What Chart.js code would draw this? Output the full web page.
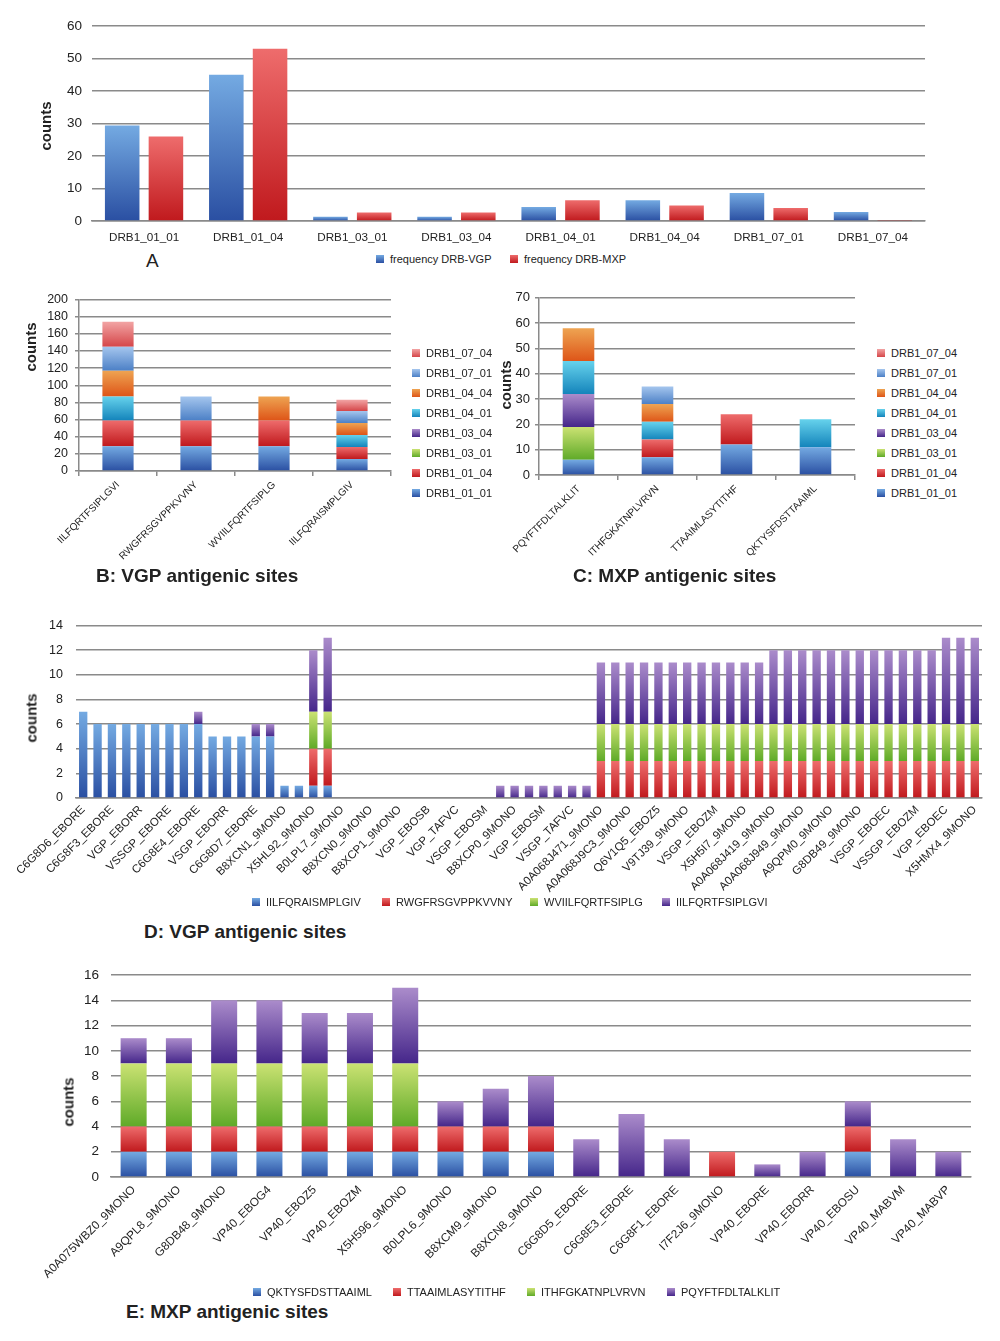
<!DOCTYPE html>
<html>
<head>
<meta charset="utf-8">
<script src="https://cdn.jsdelivr.net/npm/chart.js@4.4.1/dist/chart.umd.min.js"></script>
<style>
    body { margin: 0; background: #fff; font-family: 'Liberation Sans', Arial, Helvetica, sans-serif; color: #222; }
    #page { position: relative; width: 1000px; height: 1341px; overflow: hidden; }
    .box { position: absolute; }
    .lg { position: absolute; font-size: 11px; line-height: 12px; white-space: nowrap; display: flex; align-items: center; }
    .sw { display: inline-block; width: 8px; height: 8px; }
    .ytitle { position: absolute; font-size: 15px; font-weight: bold; white-space: nowrap; transform: translate(-50%, -50%) rotate(-90deg); }
    .ptitle { position: absolute; font-size: 19px; font-weight: bold; line-height: 22px; white-space: nowrap; }
</style>
</head>
<body>
<div id="page">
    <div class="box" style="left:0;top:0;width:1000px;height:250px"><canvas id="chartA"></canvas></div>
    <div class="box" style="left:0;top:285px;width:400px;height:290px"><canvas id="chartB"></canvas></div>
    <div class="box" style="left:490px;top:285px;width:380px;height:290px"><canvas id="chartC"></canvas></div>
    <div class="box" style="left:0;top:605px;width:1000px;height:305px"><canvas id="chartD"></canvas></div>
    <div class="box" style="left:0;top:955px;width:1000px;height:340px"><canvas id="chartE"></canvas></div>

    <div class="ytitle" style="left:45px;top:126px">counts</div>
    <div class="ytitle" style="left:30px;top:347px">counts</div>
    <div class="ytitle" style="left:505px;top:385px">counts</div>
    <div class="ytitle" style="left:31px;top:718px">counts</div>
    <div class="ytitle" style="left:68px;top:1102px">counts</div>

    <div class="ptitle" style="left:146px;top:250px;font-weight:normal">A</div>
    <div class="ptitle" style="left:96px;top:565px">B: VGP antigenic sites</div>
    <div class="ptitle" style="left:573px;top:565px">C: MXP antigenic sites</div>
    <div class="ptitle" style="left:144px;top:921px">D: VGP antigenic sites</div>
    <div class="ptitle" style="left:126px;top:1301px">E: MXP antigenic sites</div>
</div>
<script>
// Panel A: allele frequencies
const alleles = ['DRB1_01_01', 'DRB1_01_04', 'DRB1_03_01', 'DRB1_03_04', 'DRB1_04_01', 'DRB1_04_04', 'DRB1_07_01', 'DRB1_07_04'];
const freqVGP = [29.4, 45, 1.3, 1.3, 4.3, 6.4, 8.6, 2.8];
const freqMXP = [26, 53, 2.6, 2.6, 6.4, 4.8, 4, 0.3];

// Panels B and C: counts per allele (stack order bottom -> top = alleles order)
const vgpSites = ['IILFQRTFSIPLGVI', 'RWGFRSGVPPKVVNY', 'WVIILFQRTFSIPLG', 'IILFQRAISMPLGIV'];
const vgp0101 = [29, 29, 29, 14];
const vgp0104 = [30, 30, 30, 14];
const vgp0301 = [0, 0, 0, 0];
const vgp0304 = [0, 0, 0, 0];
const vgp0401 = [28, 0, 0, 14];
const vgp0404 = [30, 0, 28, 14];
const vgp0701 = [28, 28, 0, 14];
const vgp0704 = [29, 0, 0, 13];

const mxpSites = ['PQYFTFDLTALKLIT', 'ITHFGKATNPLVRVN', 'TTAAIMLASYTITHF', 'QKTYSFDSTTAAIML'];
const mxp0101 = [6, 7, 12, 11];
const mxp0104 = [0, 7, 12, 0];
const mxp0301 = [13, 0, 0, 0];
const mxp0304 = [13, 0, 0, 0];
const mxp0401 = [13, 7, 0, 11];
const mxp0404 = [13, 7, 0, 0];
const mxp0701 = [0, 7, 0, 0];
const mxp0704 = [0, 0, 0, 0];

// Panel D: VGP sequences (only every other label is printed)
const dTickLabels = ['C6G8D6_EBORE', 'C6G8F3_EBORE', 'VGP_EBORR', 'VSSGP_EBORE', 'C6G8E4_EBORE', 'VSGP_EBORR',
    'C6G8D7_EBORE', 'B8XCN1_9MONO', 'X5HL92_9MONO', 'B0LPL7_9MONO', 'B8XCN0_9MONO', 'B8XCP1_9MONO',
    'VGP_EBOSB', 'VGP_TAFVC', 'VSGP_EBOSM', 'B8XCP0_9MONO', 'VGP_EBOSM', 'VSGP_TAFVC',
    'A0A068J471_9MONO', 'A0A068J9C3_9MONO', 'Q6V1Q5_EBOZ5', 'V9TJ39_9MONO', 'VSGP_EBOZM', 'X5H5I7_9MONO',
    'A0A068J419_9MONO', 'A0A068J949_9MONO', 'A9QPM0_9MONO', 'G8DB49_9MONO', 'VSGP_EBOEC', 'VSSGP_EBOZM',
    'VGP_EBOEC', 'X5HMX4_9MONO'];
const dIILFQRAISMPLGIV = [
    7, 6, 6, 6, 6, 6, 6, 6, 6, 5, 5, 5, 5, 5, 1, 1, 1, 1, 0, 0, 0,
    0, 0, 0, 0, 0, 0, 0, 0, 0, 0, 0, 0, 0, 0, 0, 0, 0, 0, 0, 0, 0,
    0, 0, 0, 0, 0, 0, 0, 0, 0, 0, 0, 0, 0, 0, 0, 0, 0, 0, 0, 0, 0];
const dRWGFRSGVPPKVVNY = [
    0, 0, 0, 0, 0, 0, 0, 0, 0, 0, 0, 0, 0, 0, 0, 0, 3, 3, 0, 0, 0,
    0, 0, 0, 0, 0, 0, 0, 0, 0, 0, 0, 0, 0, 0, 0, 3, 3, 3, 3, 3, 3,
    3, 3, 3, 3, 3, 3, 3, 3, 3, 3, 3, 3, 3, 3, 3, 3, 3, 3, 3, 3, 3];
const dWVIILFQRTFSIPLG = [
    0, 0, 0, 0, 0, 0, 0, 0, 0, 0, 0, 0, 0, 0, 0, 0, 3, 3, 0, 0, 0,
    0, 0, 0, 0, 0, 0, 0, 0, 0, 0, 0, 0, 0, 0, 0, 3, 3, 3, 3, 3, 3,
    3, 3, 3, 3, 3, 3, 3, 3, 3, 3, 3, 3, 3, 3, 3, 3, 3, 3, 3, 3, 3];
const dIILFQRTFSIPLGVI = [
    0, 0, 0, 0, 0, 0, 0, 0, 1, 0, 0, 0, 1, 1, 0, 0, 5, 6, 0, 0, 0,
    0, 0, 0, 0, 0, 0, 0, 0, 1, 1, 1, 1, 1, 1, 1, 5, 5, 5, 5, 5, 5,
    5, 5, 5, 5, 5, 5, 6, 6, 6, 6, 6, 6, 6, 6, 6, 6, 6, 6, 7, 7, 7];

// Panel E: MXP sequences
const eLabels = ['A0A075WBZ0_9MONO', 'A9QPL8_9MONO', 'G8DB48_9MONO', 'VP40_EBOG4', 'VP40_EBOZ5', 'VP40_EBOZM',
    'X5H596_9MONO', 'B0LPL6_9MONO', 'B8XCM9_9MONO', 'B8XCN8_9MONO', 'C6G8D5_EBORE', 'C6G8E3_EBORE',
    'C6G8F1_EBORE', 'I7F2J6_9MONO', 'VP40_EBORE', 'VP40_EBORR', 'VP40_EBOSU', 'VP40_MABVM', 'VP40_MABVP'];
const eQKTYSFDSTTAAIML = [2, 2, 2, 2, 2, 2, 2, 2, 2, 2, 0, 0, 0, 0, 0, 0, 2, 0, 0];
const eTTAAIMLASYTITHF = [2, 2, 2, 2, 2, 2, 2, 2, 2, 2, 0, 0, 0, 2, 0, 0, 2, 0, 0];
const eITHFGKATNPLVRVN = [5, 5, 5, 5, 5, 5, 5, 0, 0, 0, 0, 0, 0, 0, 0, 0, 0, 0, 0];
const ePQYFTFDLTALKLIT = [2, 2, 5, 5, 4, 4, 6, 2, 3, 4, 3, 5, 3, 0, 1, 2, 2, 3, 2];

// Colour pairs: [top of bar, bottom of bar]
const BLUE = ['#74aae2', '#2a4fa2'];
const RED = ['#ee6c6c', '#c0191d'];
const GREEN = ['#cbe273', '#5faa28'];
const PURPLE = ['#ab8ccb', '#45268a'];
const CYAN = ['#66d2ec', '#1484bb'];
const ORANGE = ['#eea452', '#de5518'];
const LIGHTBLUE = ['#a5c6ee', '#4c80c6'];
const PINK = ['#f2a4a4', '#d54649'];
const alleleColors = [BLUE, RED, GREEN, PURPLE, CYAN, ORANGE, LIGHTBLUE, PINK];

Chart.defaults.font.family = "'Liberation Sans', Arial, Helvetica, sans-serif";
Chart.defaults.color = '#222';

const GRID = '#8a8a8a';

// Vertical gradient across each bar segment
function gradientFill(colors, stacked) {
    return function (ctx) {
        if (ctx.type !== 'data') return colors[1];
        const chart = ctx.chart;
        const yScale = chart.scales.y;
        if (!chart.chartArea || !yScale) return colors[1];
        const ds = chart.data.datasets;
        let base = 0;
        if (stacked) {
            for (let k = 0; k < ctx.datasetIndex; k++) base += ds[k].data[ctx.dataIndex] || 0;
        }
        const value = ds[ctx.datasetIndex].data[ctx.dataIndex] || 0;
        const yBottom = yScale.getPixelForValue(base);
        const yTop = yScale.getPixelForValue(base + value);
        if (yBottom - yTop < 1) return colors[1];
        const g = chart.ctx.createLinearGradient(0, yTop, 0, yBottom);
        g.addColorStop(0, colors[0]);
        g.addColorStop(1, colors[1]);
        return g;
    };
}

function barChart(id, labels, series, o) {
    return new Chart(document.getElementById(id), {
        type: 'bar',
        data: {
            labels: labels,
            datasets: series.map(s => ({
                label: s.name,
                data: s.data,
                backgroundColor: gradientFill(s.colors, o.stacked),
                borderWidth: 0,
                categoryPercentage: o.catPct,
                barPercentage: o.barPct
            }))
        },
        options: {
            responsive: true,
            maintainAspectRatio: false,
            animation: false,
            layout: { padding: o.padding },
            plugins: { legend: { display: false }, tooltip: { enabled: false } },
            scales: {
                x: {
                    stacked: o.stacked,
                    grid: { display: o.axisLines, drawOnChartArea: false, drawTicks: o.axisLines, tickLength: 5, offset: true, color: GRID, lineWidth: 1.5 },
                    border: { display: true, color: GRID, width: 1.5 },
                    ticks: { autoSkip: false, maxRotation: o.rot, minRotation: o.rot, padding: o.xTickPad, font: { size: o.xFont }, color: '#222' },
                    afterFit: s => { s.height = o.xHeight; }
                },
                y: {
                    stacked: o.stacked,
                    min: 0,
                    max: o.max,
                    ticks: { stepSize: o.step, autoSkip: false, padding: o.yTickPad, font: { size: o.yFont }, color: '#222' },
                    grid: { color: GRID, lineWidth: 1.5, drawTicks: o.yTickLen > 0, tickLength: o.yTickLen },
                    border: { display: o.axisLines, color: GRID, width: 1.5 },
                    afterFit: s => { s.width = o.yWidth; }
                }
            }
        }
    });
}

// HTML legends
function legend(names, colors, xs, ys) {
    const page = document.getElementById('page');
    names.forEach((name, i) => {
        const item = document.createElement('div');
        item.className = 'lg';
        item.style.left = xs[i] + 'px';
        item.style.top = (ys[i] - 6) + 'px';
        item.innerHTML = `<span class="sw" style="background:linear-gradient(${colors[i][0]},${colors[i][1]})"></span>` +
            `<span style="margin-left:6px">${name}</span>`;
        page.appendChild(item);
    });
}

function alleleSeries(arrays) {
    return alleles.map((a, i) => ({ name: a, data: arrays[i], colors: alleleColors[i] }));
}

// Chart A
barChart('chartA', alleles, [
    { name: 'frequency DRB-VGP', data: freqVGP, colors: BLUE },
    { name: 'frequency DRB-MXP', data: freqMXP, colors: RED }
], {
    stacked: false, catPct: 0.84, barPct: 0.79, max: 60, step: 10,
    padding: { left: 0, right: 75, top: 26, bottom: 7 },
    axisLines: false, rot: 0, xTickPad: 10, xFont: 11.7, xHeight: 22,
    yTickPad: 10, yFont: 13.5, yTickLen: 0, yWidth: 92
});
legend(['frequency DRB-VGP', 'frequency DRB-MXP'], [BLUE, RED], [376, 510], [259, 259]);

// Charts B and C
const vgpAllele = [vgp0101, vgp0104, vgp0301, vgp0304, vgp0401, vgp0404, vgp0701, vgp0704];
const mxpAllele = [mxp0101, mxp0104, mxp0301, mxp0304, mxp0401, mxp0404, mxp0701, mxp0704];

// x-axis boxes are tall enough for the rotated labels (Chart.js clips labels to the axis box)
barChart('chartB', vgpSites, alleleSeries(vgpAllele), {
    stacked: true, catPct: 0.4, barPct: 1, max: 200, step: 20,
    padding: { left: 0, right: 9, top: 12, bottom: 4 },
    axisLines: true, rot: 45, xTickPad: 3, xFont: 10, xHeight: 100,
    yTickPad: 7, yFont: 12.5, yTickLen: 4, yWidth: 79
});
barChart('chartC', mxpSites, alleleSeries(mxpAllele), {
    stacked: true, catPct: 0.4, barPct: 1, max: 70, step: 10,
    padding: { left: 0, right: 15, top: 12, bottom: 0 },
    axisLines: true, rot: 45, xTickPad: 3, xFont: 10, xHeight: 100,
    yTickPad: 5, yFont: 13, yTickLen: 4, yWidth: 49
});

const legendY = [353, 373, 393, 413, 433, 453, 473, 493];
const revNames = alleles.slice().reverse();
const revColors = alleleColors.slice().reverse();
legend(revNames, revColors, Array(8).fill(412), legendY);
legend(revNames, revColors, Array(8).fill(877), legendY);

// Chart D
const dCategories = [];
dTickLabels.forEach((l, i) => {
    dCategories.push(l);
    if (i < dTickLabels.length - 1) dCategories.push('');
});
const dNames = ['IILFQRAISMPLGIV', 'RWGFRSGVPPKVVNY', 'WVIILFQRTFSIPLG', 'IILFQRTFSIPLGVI'];
const dData = [dIILFQRAISMPLGIV, dRWGFRSGVPPKVVNY, dWVIILFQRTFSIPLG, dIILFQRTFSIPLGVI];
const seqColors = [BLUE, RED, GREEN, PURPLE];
barChart('chartD', dCategories, dNames.map((n, i) => ({ name: n, data: dData[i], colors: seqColors[i] })), {
    stacked: true, catPct: 0.58, barPct: 1, max: 14, step: 2,
    padding: { left: 0, right: 18, top: 11, bottom: 2 },
    axisLines: false, rot: 45, xTickPad: 5, xFont: 11.5, xHeight: 110,
    yTickPad: 13, yFont: 12.5, yTickLen: 0, yWidth: 76
});
legend(dNames, seqColors, [252, 382, 530, 662], [902, 902, 902, 902]);

// Chart E
const eNames = ['QKTYSFDSTTAAIML', 'TTAAIMLASYTITHF', 'ITHFGKATNPLVRVN', 'PQYFTFDLTALKLIT'];
const eData = [eQKTYSFDSTTAAIML, eTTAAIMLASYTITHF, eITHFGKATNPLVRVN, ePQYFTFDLTALKLIT];
barChart('chartE', eLabels, eNames.map((n, i) => ({ name: n, data: eData[i], colors: seqColors[i] })), {
    stacked: true, catPct: 0.575, barPct: 1, max: 16, step: 2,
    padding: { left: 0, right: 29, top: 13, bottom: 3 },
    axisLines: false, rot: 45, xTickPad: 6, xFont: 11.8, xHeight: 115,
    yTickPad: 12, yFont: 13.5, yTickLen: 0, yWidth: 111
});
legend(eNames, seqColors, [253, 393, 527, 667], [1292, 1292, 1292, 1292]);
</script>
</body>
</html>
